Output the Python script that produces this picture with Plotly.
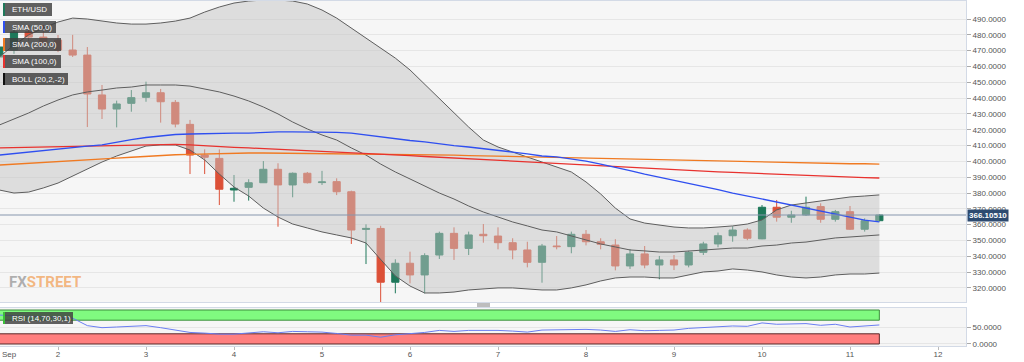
import plotly.graph_objects as go
import pandas as pd

# ---------------- data (4h candles, ETH/USD, from Sep 1 08:00) ----------------
start_time = "2020-09-01 08:00"
opens = [466.0, 470.4, 481.8, 478.6, 476.7, 470.4, 467.2, 442.0, 433.1, 436.7,
         440.5, 443.4, 437.3, 423.4, 404.0, 401.9, 381.9, 383.6, 386.5, 395.0,
         385.1, 392.5, 386.6, 387.2, 380.8, 357.0, 357.6, 323.6, 335.6, 328.2,
         340.8, 354.5, 345.0, 353.9, 352.8, 348.6, 344.0, 336.2, 346.5, 346.1,
         353.9, 349.2, 347.1, 333.9, 341.5, 334.5, 337.7, 334.5, 342.5, 347.8,
         353.0, 356.6, 351.0, 371.0, 364.7, 366.1, 371.4, 363.4, 368.2, 357.1,
         362.5]
highs = [475.0, 484.0, 486.0, 486.2, 479.9, 480.0, 472.3, 448.3, 438.4, 445.1,
         450.4, 445.8, 438.8, 426.2, 407.6, 407.6, 391.4, 388.7, 400.2, 398.8,
         393.0, 393.3, 394.0, 389.3, 381.5, 360.2, 359.3, 338.1, 342.9, 341.9,
         355.6, 358.3, 355.6, 360.4, 358.3, 351.4, 349.2, 347.8, 352.8, 355.6,
         356.6, 351.4, 350.8, 344.6, 346.5, 340.2, 340.8, 343.5, 349.2, 355.0,
         359.0, 357.7, 372.4, 375.6, 368.8, 377.7, 373.5, 369.3, 371.8, 364.0,
         366.5]
lows = [464.0, 468.0, 476.0, 472.0, 469.1, 466.0, 421.7, 426.8, 421.5, 431.4,
        437.7, 424.5, 421.5, 392.0, 392.0, 372.4, 374.5, 375.2, 386.5, 358.7,
        377.3, 386.0, 385.1, 378.7, 347.8, 335.1, 310.7, 316.6, 322.9, 316.6,
        338.3, 337.7, 340.8, 348.6, 344.4, 338.1, 333.0, 323.3, 344.4, 341.9,
        346.9, 344.4, 331.1, 332.0, 332.4, 325.5, 331.3, 333.0, 340.8, 345.7,
        349.2, 350.2, 350.8, 361.9, 361.2, 365.5, 361.2, 361.9, 356.6, 355.6,
        362.0]
closes = [472.3, 481.8, 478.6, 474.0, 470.4, 467.2, 442.6, 433.1, 436.3, 440.3,
          443.4, 437.7, 423.6, 404.0, 402.6, 382.4, 383.0, 386.5, 395.0, 385.1,
          392.5, 386.5, 387.0, 380.8, 356.6, 357.6, 323.6, 335.6, 328.2, 340.4,
          354.5, 345.0, 353.5, 353.0, 348.6, 344.0, 336.2, 346.5, 346.1, 353.9,
          349.2, 347.6, 333.9, 341.5, 334.5, 337.7, 334.5, 342.5, 347.8, 353.0,
          356.6, 351.4, 371.0, 364.7, 366.1, 371.0, 363.4, 368.2, 357.1, 362.5,
          366.1051]

boll_upper = [466.0, 473.6, 479.9, 484.3, 488.1, 490.6, 490.0, 488.7, 487.5, 486.8,
              486.8, 487.5, 488.7, 490.6, 494.4, 497.6, 500.1, 501.4, 502.0, 502.0,
              501.4, 499.5, 495.7, 490.6, 484.3, 478.0, 471.7, 465.3, 457.8, 448.9,
              440.1, 431.2, 421.7, 413.5, 409.1, 405.9, 402.8, 399.6, 396.4, 393.3,
              387.0, 379.4, 370.5, 363.6, 361.0, 359.8, 358.5, 357.9, 357.9, 358.5,
              359.2, 360.4, 363.0, 369.3, 372.4, 373.7, 375.0, 376.2, 377.5, 378.1,
              378.8]
boll_mid = [423.0, 426.8, 430.6, 435.0, 438.8, 442.0, 443.9, 445.1, 446.4, 447.0,
            448.3, 448.3, 448.3, 447.6, 445.8, 443.9, 441.3, 438.2, 434.4, 430.0,
            424.9, 420.5, 416.7, 413.5, 408.5, 404.0, 398.3, 393.3, 388.9, 384.4,
            380.0, 376.2, 371.8, 368.0, 364.8, 361.7, 359.2, 356.6, 355.4, 352.8,
            350.3, 347.8, 345.9, 344.0, 343.4, 342.7, 342.7, 343.4, 344.0, 344.6,
            345.2, 345.2, 346.5, 347.1, 348.4, 349.0, 350.3, 351.6, 352.2, 352.8,
            353.5]
boll_lower = [381.9, 380.0, 380.6, 383.2, 386.3, 390.8, 395.2, 399.6, 403.4, 406.6,
              409.7, 410.4, 410.4, 407.2, 400.9, 392.0, 383.8, 378.1, 370.5, 364.8,
              360.4, 357.9, 355.4, 353.5, 351.6, 348.4, 337.7, 327.6, 321.2, 316.8,
              316.8, 317.4, 318.7, 319.3, 320.0, 320.0, 319.3, 318.7, 318.7, 320.0,
              321.9, 324.4, 326.3, 326.9, 326.9, 326.3, 326.3, 328.2, 330.1, 330.7,
              332.0, 331.3, 330.1, 328.2, 326.9, 326.3, 326.9, 328.2, 328.8, 328.8,
              329.4]
sma50 = [404.0, 405.0, 405.9, 406.9, 407.8, 408.8, 409.7, 410.4, 412.3, 413.8,
         415.1, 416.0, 417.0, 417.3, 417.6, 417.6, 417.9, 417.9, 418.3, 418.6,
         418.6, 418.6, 418.6, 418.3, 417.9, 416.7, 415.4, 414.1, 413.2, 412.3,
         411.0, 410.0, 409.1, 408.1, 407.2, 405.9, 404.7, 403.4, 402.8, 401.5,
         400.2, 398.3, 396.4, 394.2, 392.0, 390.1, 388.2, 386.3, 384.4, 382.2,
         380.0, 378.1, 375.9, 374.0, 372.1, 370.2, 368.3, 366.4, 364.5, 362.9,
         361.7]
sma100 = [408.5, 408.7, 408.9, 409.1, 409.4, 409.6, 409.8, 410.0, 410.2, 410.5,
          410.7, 410.9, 410.8, 410.4, 409.8, 409.3, 408.9, 408.5, 408.1, 407.6,
          407.2, 406.8, 406.3, 405.9, 405.5, 405.0, 404.7, 404.2, 403.7, 403.1,
          402.6, 402.1, 401.6, 401.1, 400.6, 400.1, 399.6, 399.0, 398.5, 398.0,
          397.5, 397.1, 396.6, 396.1, 395.6, 395.1, 394.7, 394.2, 393.8, 393.4,
          393.0, 392.6, 392.2, 391.8, 391.5, 391.1, 390.8, 390.4, 390.1, 389.7,
          389.5]
sma200 = [397.7, 398.3, 398.9, 399.4, 399.9, 400.5, 401.0, 401.6, 402.1, 402.6,
          403.2, 403.8, 404.2, 404.4, 404.7, 404.9, 405.0, 405.3, 405.3, 405.2,
          405.1, 405.0, 404.9, 404.9, 404.9, 404.8, 404.7, 404.7, 404.5, 404.3,
          404.1, 403.9, 403.7, 403.5, 403.3, 403.0, 402.8, 402.6, 402.4, 402.3,
          402.1, 401.8, 401.6, 401.4, 401.1, 400.9, 400.7, 400.4, 400.2, 400.1,
          399.7, 399.6, 399.4, 399.3, 399.1, 399.0, 398.8, 398.7, 398.5, 398.5,
          398.3]
rsi = [85, 84, 82, 80, 78, 76, 54, 48, 50, 52,
       54, 48, 42, 34, 32, 29, 29, 33, 36, 33,
       37, 36, 35, 31, 26, 26, 20, 27, 30, 34,
       40, 37, 40, 41, 40, 38, 35, 41, 42, 44,
       43, 41, 37, 42, 39, 40, 41, 46, 49, 51,
       53, 52, 62, 58, 58, 60, 55, 58, 50, 54,
       56]

day_ticks = ["2020-09-%02d" % d for d in range(2, 13)]
day_labels = [str(d) for d in range(2, 13)]
price_ticks = list(range(320, 500, 10))
rsi_ticks = [0, 50]
last_price = 366.10510
x_view = ["2020-09-01 08:11", "2020-09-12 07:38"]
y_view = [311.1, 501.4]
rsi_view = [-5.9, 105.9]

times = pd.date_range(start_time, periods=len(opens), freq="4h")

# ---------------- geometry helpers ----------------
W, H = 1024, 362
ML, MR, MT, MB = 0, 58, 1, 16
PW, PH = W - ML - MR, H - MT - MB


def px(xp):
    return (xp - ML) / PW


def py(yp):
    return (H - MB - yp) / PH


GREEN = "#1e785a"
RED = "#dc5037"
BAND_FILL = "rgba(195,195,195,0.5)"
BAND_LINE = "#5e5e5e"

fig = go.Figure()

fig.add_trace(go.Candlestick(
    x=times, open=opens, high=highs, low=lows, close=closes,
    increasing=dict(line=dict(color=GREEN, width=1), fillcolor=GREEN),
    decreasing=dict(line=dict(color=RED, width=1), fillcolor=RED),
    whiskerwidth=0, hoverinfo="skip", xaxis="x", yaxis="y", showlegend=False))

fig.add_trace(go.Scatter(x=times, y=boll_lower, mode="lines",
                         line=dict(color=BAND_LINE, width=1),
                         hoverinfo="skip", showlegend=False))
fig.add_trace(go.Scatter(x=times, y=boll_upper, mode="lines",
                         line=dict(color=BAND_LINE, width=1),
                         fill="tonexty", fillcolor=BAND_FILL,
                         hoverinfo="skip", showlegend=False))
fig.add_trace(go.Scatter(x=times, y=boll_mid, mode="lines",
                         line=dict(color=BAND_LINE, width=1),
                         hoverinfo="skip", showlegend=False))
fig.add_trace(go.Scatter(x=times, y=sma200, mode="lines",
                         line=dict(color="#f07a22", width=1.3),
                         hoverinfo="skip", showlegend=False))
fig.add_trace(go.Scatter(x=times, y=sma100, mode="lines",
                         line=dict(color="#e8322e", width=1.3),
                         hoverinfo="skip", showlegend=False))
fig.add_trace(go.Scatter(x=times, y=sma50, mode="lines",
                         line=dict(color="#2f4ff0", width=1.3),
                         hoverinfo="skip", showlegend=False))

fig.add_trace(go.Scatter(x=times, y=rsi, mode="lines",
                         line=dict(color="#6a7ef2", width=1),
                         xaxis="x2", yaxis="y2",
                         hoverinfo="skip", showlegend=False))

font_axis = dict(family="Liberation Sans, Arial", size=8, color="#555555")

fig.update_layout(
    width=W, height=H,
    margin=dict(l=ML, r=MR, t=MT, b=MB, autoexpand=False),
    paper_bgcolor="white",
    plot_bgcolor="#f6f6f6",
    showlegend=False,
    hovermode=False,
    xaxis=dict(domain=[0, 1], anchor="y", range=x_view, type="date",
               showticklabels=False, showgrid=False, zeroline=False,
               rangeslider=dict(visible=False),
               showline=True, mirror=True, linecolor="#d3dae6", linewidth=1,
               ticks=""),
    yaxis=dict(domain=[py(302), 1], anchor="x", side="right", range=y_view,
               tickvals=price_ticks, tickformat=".4f", tickfont=font_axis,
               ticks="outside", ticklen=4, tickcolor="#aaaaaa",
               showgrid=True, gridcolor="#e6e6e6", gridwidth=1, zeroline=False,
               showline=True, mirror=True, linecolor="#d3dae6", linewidth=1),
    xaxis2=dict(domain=[0, 1], anchor="y2", range=x_view, type="date",
                tickvals=day_ticks, ticktext=day_labels, tickfont=font_axis,
                ticks="outside", ticklen=3, tickcolor="#bbbbbb",
                ticklabelstandoff=-3,
                showgrid=False, zeroline=False,
                showline=True, mirror=True, linecolor="#d3dae6", linewidth=1),
    yaxis2=dict(domain=[0, py(308)], anchor="x2", side="right", range=rsi_view,
                tickvals=rsi_ticks, tickformat=".4f", tickfont=font_axis,
                ticks="outside", ticklen=4, tickcolor="#aaaaaa",
                showgrid=True, gridcolor="#e6e6e6", zeroline=False,
                showline=True, mirror=True, linecolor="#d3dae6", linewidth=1),
)

shapes = []
# RSI zones
shapes.append(dict(type="rect", xref="x2", yref="y2", x0=times[0], x1=times[-1],
                   y0=70, y1=100, fillcolor="#80fb80",
                   line=dict(color="#3c8f3c", width=1), layer="between"))
shapes.append(dict(type="rect", xref="x2", yref="y2", x0=times[0], x1=times[-1],
                   y0=0, y1=30, fillcolor="#ff7f7f",
                   line=dict(color="#5a2a2a", width=1), layer="between"))
# last price line
shapes.append(dict(type="line", xref="paper", yref="y", x0=0, x1=1,
                   y0=last_price, y1=last_price,
                   line=dict(color="#8696ad", width=1), layer="above"))
# divider handle
shapes.append(dict(type="rect", xref="paper", yref="paper",
                   x0=px(477), x1=px(490), y0=py(307), y1=py(303),
                   fillcolor="#bdbdbd", line=dict(width=0), layer="above"))

annotations = []
legend_boxes = [
    ("ETH/USD", 3, 52, 3, 16, GREEN),
    ("SMA (50,0)", 3, 56, 21, 33, "#2f4ff0"),
    ("SMA (200,0)", 3, 61, 38, 51, "#f07a22"),
    ("SMA (100,0)", 3, 61, 55, 68, "#e8322e"),
    ("BOLL (20,2,-2)", 3, 68, 73, 85, "#111111"),
    ("RSI (14,70,30,1)", 3, 73, 312, 324, "#3ac03a"),
]
for text, x0, x1, y0, y1, c in legend_boxes:
    shapes.append(dict(type="rect", xref="paper", yref="paper",
                       x0=px(x0), x1=px(x1), y0=py(y1), y1=py(y0),
                       fillcolor="rgba(62,62,62,0.82)", line=dict(width=0),
                       layer="above"))
    shapes.append(dict(type="rect", xref="paper", yref="paper",
                       x0=px(x0), x1=px(x0 + 2), y0=py(y1), y1=py(y0),
                       fillcolor=c, line=dict(width=0), layer="above"))
    annotations.append(dict(xref="paper", yref="paper", x=px(x0 + 7),
                            y=py((y0 + y1) / 2), text=text, showarrow=False,
                            xanchor="left", yanchor="middle",
                            font=dict(family="Liberation Sans, Arial", size=8,
                                      color="white")))

# last price label
annotations.append(dict(xref="paper", yref="y", x=1, y=last_price,
                        xanchor="left", yanchor="middle", xshift=1,
                        text="<b>%.5f</b>" % last_price, showarrow=False,
                        bgcolor="#2d4a70", borderpad=1,
                        font=dict(family="Liberation Sans, Arial", size=8,
                                  color="white")))
# month label
annotations.append(dict(xref="paper", yref="paper", x=0, y=0, yshift=-2,
                        xanchor="left", yanchor="top", text="Sep",
                        showarrow=False, font=font_axis))
# watermark
annotations.append(dict(xref="paper", yref="paper", x=px(7), y=py(282),
                        xanchor="left", yanchor="middle", showarrow=False,
                        text="<b><span style='color:rgba(125,125,125,0.6)'>FX</span>"
                             "<span style='color:rgba(240,140,50,0.6)'>STREET</span></b>",
                        font=dict(family="Roboto, Liberation Sans", size=15)))

fig.update_layout(shapes=shapes, annotations=annotations)

fig.write_html("out.html",
               config={"displayModeBar": False, "staticPlot": True},
               post_script="document.body.style.margin='0px';"
                           "document.body.style.overflow='hidden';")
